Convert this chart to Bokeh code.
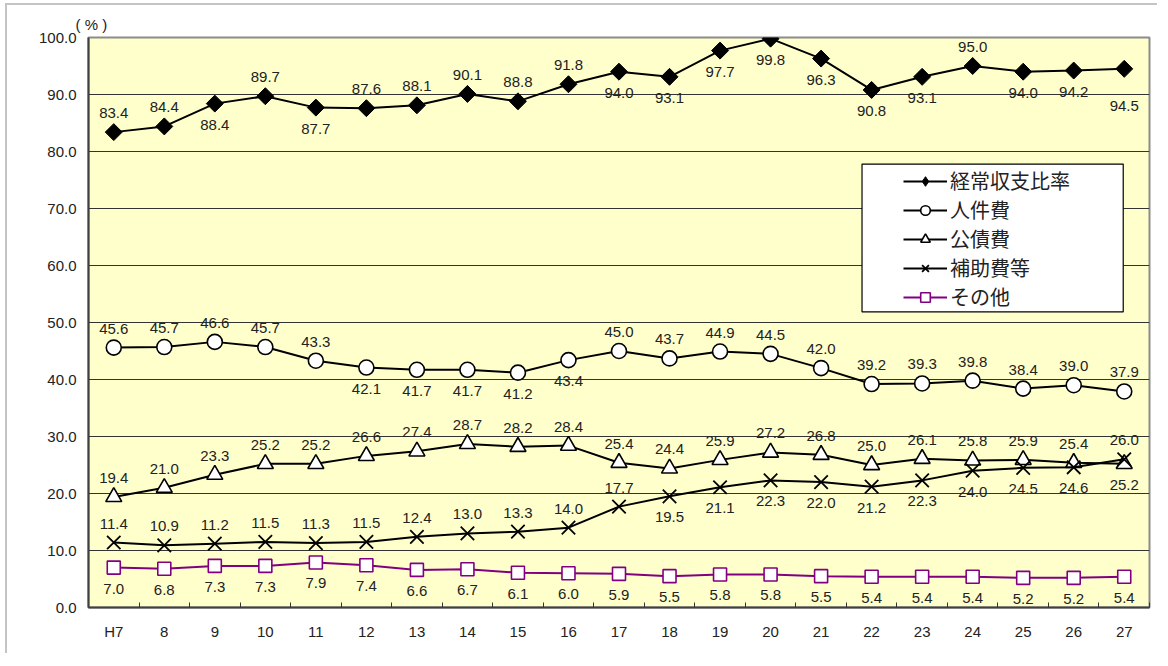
import math
from bokeh.plotting import figure
from bokeh.models import (ColumnDataSource, Range1d, FixedTicker, NumeralTickFormatter,
                          Legend, LegendItem, BoxAnnotation)
from bokeh.core.properties import value
from bokeh.embed import file_html
from bokeh.resources import INLINE

# ---- data ----
years = ["H7", "8", "9", "10", "11", "12", "13", "14", "15", "16",
         "17", "18", "19", "20", "21", "22", "23", "24", "25", "26", "27"]
keijo = [83.4, 84.4, 88.4, 89.7, 87.7, 87.6, 88.1, 90.1, 88.8, 91.8,
         94.0, 93.1, 97.7, 99.8, 96.3, 90.8, 93.1, 95.0, 94.0, 94.2, 94.5]
jinken = [45.6, 45.7, 46.6, 45.7, 43.3, 42.1, 41.7, 41.7, 41.2, 43.4,
          45.0, 43.7, 44.9, 44.5, 42.0, 39.2, 39.3, 39.8, 38.4, 39.0, 37.9]
kosai = [19.4, 21.0, 23.3, 25.2, 25.2, 26.6, 27.4, 28.7, 28.2, 28.4,
         25.4, 24.4, 25.9, 27.2, 26.8, 25.0, 26.1, 25.8, 25.9, 25.4, 25.2]
hojo = [11.4, 10.9, 11.2, 11.5, 11.3, 11.5, 12.4, 13.0, 13.3, 14.0,
        17.7, 19.5, 21.1, 22.3, 22.0, 21.2, 22.3, 24.0, 24.5, 24.6, 26.0]
sonota = [7.0, 6.8, 7.3, 7.3, 7.9, 7.4, 6.6, 6.7, 6.1, 6.0,
          5.9, 5.5, 5.8, 5.8, 5.5, 5.4, 5.4, 5.4, 5.2, 5.2, 5.4]
names = ["経常収支比率", "人件費", "公債費", "補助費等", "その他"]

# label placement (a = above, b = below, B = further below)
label_pos = [
    "aababaaaaabbbbbbbabbB",
    "aaaaabbbbbaaaaaaaaaaa",
    "aaaaaaaaaaaaaaaaaaaab",
    "aaaaaaaaaaabbbbbbbbba",
    "bbbbbbbbbbbbbbbbbbbbb",
]
offset_px = {"a": -19, "b": 21, "B": 37}

styles = [
    dict(marker="square", size=12, fill_color="black", line_color="black", line_width=1,
         angle=math.pi / 4, color="black", legend_marker="diamond"),
    dict(marker="circle", size=15, fill_color="white", line_color="black", line_width=1.6,
         angle=0, color="black", legend_marker=None),
    dict(marker="triangle", size=16, fill_color="white", line_color="black", line_width=1.6,
         angle=0, color="black", legend_marker=None),
    dict(marker="x", size=19, fill_color="black", line_color="black", line_width=1.8,
         angle=0, color="black", legend_marker=None),
    dict(marker="square", size=13, fill_color="white", line_color="#800080", line_width=1.6,
         angle=0, color="#800080", legend_marker=None),
]

p = figure(width=1152, height=650, output_backend="svg", toolbar_location=None,
           x_range=Range1d(-0.5, 20.5), y_range=Range1d(0, 100),
           min_border_left=81, min_border_right=10, min_border_top=32, min_border_bottom=48,
           background_fill_color="#FFFFCC", border_fill_color="white",
           title="( % )")
p.title.align = "left"
p.title.offset = -13
p.title.text_font = "Liberation Sans"
p.title.text_font_size = "15px"
p.title.text_font_style = "normal"
p.title.text_color = "#222222"
p.title.standoff = 10

p.outline_line_color = "#8c8c8c"
p.outline_line_width = 2

# axes
p.xaxis.ticker = FixedTicker(ticks=list(range(len(years))),
                             minor_ticks=[i - 0.5 for i in range(len(years) + 1)])
p.xaxis.major_label_overrides = {i: y for i, y in enumerate(years)}
p.xaxis.major_tick_line_color = None
p.xaxis.major_tick_out = 0
p.xaxis.minor_tick_in = 5
p.xaxis.minor_tick_out = 0
p.xaxis.minor_tick_line_color = "#333333"
p.xaxis.major_label_standoff = 15
p.xaxis.major_label_text_font = "Liberation Sans"
p.xaxis.major_label_text_font_size = "15px"
p.xaxis.major_label_text_color = "#222222"
p.xaxis.axis_line_color = "#404040"
p.xaxis.axis_line_width = 2

p.yaxis.ticker = FixedTicker(ticks=list(range(0, 101, 10)))
p.yaxis.formatter = NumeralTickFormatter(format="0.0")
p.yaxis.major_tick_line_color = None
p.yaxis.minor_tick_line_color = None
p.yaxis.major_tick_out = 0
p.yaxis.major_label_standoff = 12
p.yaxis.major_label_text_font = "Liberation Sans"
p.yaxis.major_label_text_font_size = "15px"
p.yaxis.major_label_text_color = "#222222"
p.yaxis.axis_line_color = "#404040"
p.yaxis.axis_line_width = 2

p.xgrid.visible = False
p.ygrid.ticker = FixedTicker(ticks=list(range(10, 101, 10)))
p.ygrid.grid_line_color = "#333333"
p.ygrid.grid_line_width = 1

items = []
series = [keijo, jinken, kosai, hojo, sonota]
xs = list(range(len(years)))
for name, vals, st, lp in zip(names, series, styles, label_pos):
    src = ColumnDataSource(dict(x=xs, y=vals,
                                lab=[f"{v:.1f}" for v in vals],
                                dy=[offset_px[c] for c in lp]))
    ln = p.line("x", "y", source=src, line_color=st["color"], line_width=2)
    sc = p.scatter("x", "y", source=src, marker=st["marker"], size=st["size"],
                   fill_color=st["fill_color"], line_color=st["line_color"],
                   line_width=st["line_width"], angle=st["angle"])
    p.text("x", "y", text="lab", source=src, y_offset="dy",
           text_align="center", text_baseline="middle",
           text_font=value("Liberation Sans"), text_font_size="15px",
           text_color="#222222")
    rends = [ln, sc]
    if st["legend_marker"]:
        # marker used only for the legend swatch (zero size on the plot)
        lm = p.scatter("x", "y", source=src, marker=st["legend_marker"], size=0,
                       fill_color=st["fill_color"], line_color=st["line_color"],
                       line_width=1)
        rends = [ln, lm]
    items.append(LegendItem(label=name, renderers=rends))

box = BoxAnnotation(left=14.81, right=19.98, bottom=51.85, top=77.8,
                    fill_color="white", fill_alpha=1.0,
                    line_color="black", line_width=1.2, line_alpha=1.0)
p.add_layout(box)

legend = Legend(items=items, location=(815, 296), padding=0, margin=0,
                border_line_color=None, background_fill_alpha=0,
                glyph_width=44, glyph_height=24, label_height=24, spacing=0,
                label_standoff=3, label_text_font="Noto Sans CJK JP",
                label_text_font_size="20px", label_text_color="#222222")
p.add_layout(legend)

p.stylesheets = [":host { border-top: 2px solid #c4c4c4 !important; "
                 "border-left: 2px solid #c4c4c4 !important; "
                 "margin-left: 5px !important; margin-top: 3px !important; }"]

open("out.html", "w").write(file_html(p, INLINE))
